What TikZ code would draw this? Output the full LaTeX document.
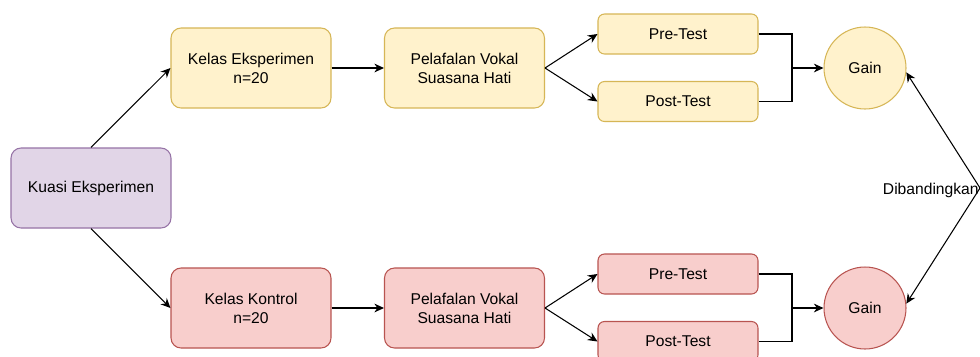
\documentclass[tikz,border=0pt]{standalone}
\usepackage{fontspec}
\setmainfont{Liberation Sans}
\usetikzlibrary{arrows.meta}
\definecolor{yelfill}{HTML}{FFF2CC}
\definecolor{yelline}{HTML}{D6B656}
\definecolor{redfill}{HTML}{F8CECC}
\definecolor{redline}{HTML}{B85450}
\definecolor{purfill}{HTML}{E1D5E7}
\definecolor{purline}{HTML}{9673A6}
\tikzset{
  base/.style={draw, line width=0.6pt, align=center, inner sep=2pt,
    font=\fontsize{8.9}{10.8}\selectfont},
  bigbox/.style={base, rounded corners=0.2cm, minimum width=3.2cm, minimum height=1.6cm},
  testbox/.style={base, rounded corners=0.13cm, minimum width=3.2cm, minimum height=0.8cm},
  gainnode/.style={base, circle, minimum size=1.64cm},
  yel/.style={fill=yelfill, draw=yelline},
  red/.style={fill=redfill, draw=redline},
  pur/.style={fill=purfill, draw=purline},
  conn/.style={line width=0.6pt, -{Stealth[length=5.5pt, width=5pt]}},
  wire/.style={line width=0.6pt}
}
\newcommand{\drawbranch}[4]{
  \node[bigbox, #3] (#1kelas) at (251, #2) {#4\\n=20};
  \node[bigbox, #3] (#1vokal) at (464.5, #2) {Pelafalan Vokal\\Suasana Hati};
  \node[testbox, #3] (#1pre) at (678, #2 - 34) {Pre-Test};
  \node[testbox, #3] (#1post) at (678, #2 + 33.5) {Post-Test};
  \node[gainnode, #3] (#1gain) at (865, #2) {Gain};
  \coordinate (#1join) at (792, #2);
  \draw[conn] (#1kelas) -- (#1vokal);
  \draw[conn] (#1vokal.east) -- (#1pre.west);
  \draw[conn] (#1vokal.east) -- (#1post.west);
  \draw[wire] (#1pre.east) -| (#1join) |- (#1post.east);
  \draw[conn] (#1join) -- (#1gain);
}

\begin{document}
\begin{tikzpicture}[x=0.02cm, y=-0.02cm]
  \useasboundingbox[fill=white] (0, 0) rectangle (980, 356);
  \node[bigbox, pur] (kuasi) at (91, 188) {Kuasi Eksperimen};
  \drawbranch{up}{68}{yel}{Kelas Eksperimen}
  \drawbranch{lo}{308}{red}{Kelas Kontrol}
  \draw[conn] (kuasi.north) -- (upkelas.west);
  \draw[conn] (kuasi.south) -- (lokelas.west);
  \coordinate (turn) at (980, 188);
  \node[base, draw=none, anchor=east, inner sep=0.5pt] (banding) at (980, 190) {Dibandingkan};
  \draw[conn] (turn) -- (upgain.-6);
  \draw[conn] (turn) -- (logain.6);
\end{tikzpicture}
\end{document}
